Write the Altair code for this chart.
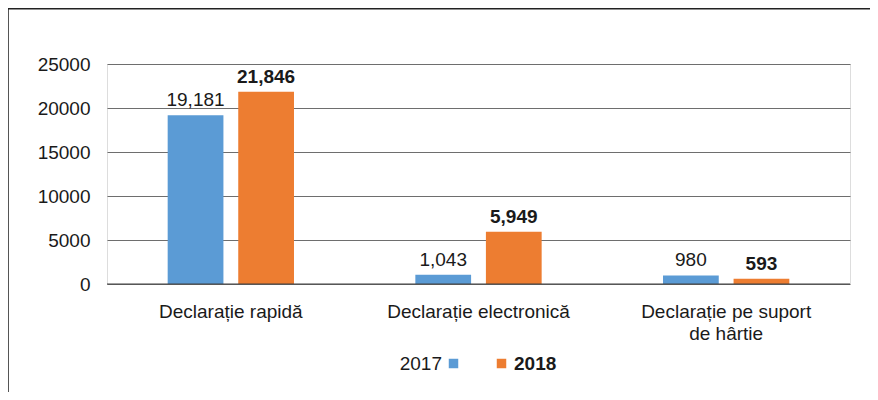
import altair as alt
import pandas as pd

categories = ["Declarație rapidă", "Declarație electronică", "Declarație pe suport de hârtie"]
years = ["2017", "2018"]
values_2017 = [19181, 1043, 980]
values_2018 = [21846, 5949, 593]
colors = ["#5B9BD5", "#ED7D31"]
y_ticks = [0, 5000, 10000, 15000, 20000, 25000]

rows = []
for c, v in zip(categories, values_2017):
    rows.append({"cat": c, "year": "2017", "value": v})
for c, v in zip(categories, values_2018):
    rows.append({"cat": c, "year": "2018", "value": v})
df = pd.DataFrame(rows)

FONT = "Liberation Sans"
FS = 19

x_enc = alt.X(
    "cat:N",
    sort=categories,
    scale=alt.Scale(paddingInner=0.49, paddingOuter=0.245),
    axis=alt.Axis(
        title=None,
        labelAngle=0,
        labelPadding=18,
        ticks=False,
        domain=False,
        labelFontSize=FS,
        labelColor="#1a1a1a",
        labelLineHeight=22,
        labelLimit=300,
        labelExpr="datum.label == 'Declarație pe suport de hârtie' ? ['Declarație pe suport', 'de hârtie'] : datum.label",
    ),
)
xoff = alt.XOffset("year:N", sort=years, scale=alt.Scale(paddingInner=0.21, paddingOuter=0))
y_enc = alt.Y(
    "value:Q",
    scale=alt.Scale(domain=[0, 25000], nice=False),
    axis=alt.Axis(
        title=None,
        values=y_ticks,
        format="d",
        ticks=False,
        domain=False,
        labelPadding=17,
        labelFontSize=FS,
        labelColor="#1a1a1a",
        grid=True,
        gridColor="#6e6e6e",
        gridWidth=1,
    ),
)

base = alt.Chart(df)

bars = base.mark_bar().encode(
    x=x_enc,
    xOffset=xoff,
    y=y_enc,
    color=alt.Color("year:N", scale=alt.Scale(domain=years, range=colors), legend=None),
)

labels17 = base.transform_filter("datum.year == '2017'").mark_text(
    baseline="bottom", dy=-5, fontSize=FS, font=FONT, color="#1a1a1a"
).encode(x=x_enc, xOffset=xoff, y="value:Q", text=alt.Text("value:Q", format=","))

labels18 = base.transform_filter("datum.year == '2018'").mark_text(
    baseline="bottom", dy=-5, fontSize=FS, font=FONT, fontWeight="bold", color="#1a1a1a"
).encode(x=x_enc, xOffset=xoff, y="value:Q", text=alt.Text("value:Q", format=","))

zero = alt.Chart(pd.DataFrame({"v": [0]})).mark_rule(color="#404040", strokeWidth=1).encode(y="v:Q")

leg_df17 = pd.DataFrame({"t": ["2017"]})
leg_df18 = pd.DataFrame({"t": ["2018"]})
leg_t17 = alt.Chart(leg_df17).mark_text(
    align="right", baseline="middle", fontSize=FS, font=FONT, color="#1a1a1a"
).encode(x=alt.value(335), y=alt.value(300), text="t:N")
leg_s17 = alt.Chart(leg_df17).mark_square(size=90, opacity=1, color=colors[0]).encode(
    x=alt.value(346.5), y=alt.value(299.5)
)
leg_s18 = alt.Chart(leg_df18).mark_square(size=90, opacity=1, color=colors[1]).encode(
    x=alt.value(394.5), y=alt.value(299.5)
)
leg_t18 = alt.Chart(leg_df18).mark_text(
    align="left", baseline="middle", fontSize=FS, font=FONT, fontWeight="bold", color="#1a1a1a"
).encode(x=alt.value(407), y=alt.value(300), text="t:N")

frame_left = alt.Chart(leg_df17).mark_rule(color="#555555", strokeWidth=2).encode(
    x=alt.value(-99), y=alt.value(-56), y2=alt.value(340)
)
frame_top = alt.Chart(leg_df17).mark_rule(color="#222222", strokeWidth=2).encode(
    x=alt.value(-99), x2=alt.value(770), y=alt.value(-55.5)
)

chart = (
    alt.layer(bars, zero, labels17, labels18, leg_t17, leg_s17, leg_s18, leg_t18, frame_left, frame_top)
    .properties(
        width=743,
        height=220,
        autosize=alt.AutoSizeParams(type="none"),
        padding={"left": 99, "top": 56, "right": 20, "bottom": 108},
    )
    .configure_view(stroke=None)
    .configure(font=FONT, background="white")
    .configure_axis(labelFont=FONT)
)

chart.save("out.html", embed_options={"renderer": "svg", "actions": False})
